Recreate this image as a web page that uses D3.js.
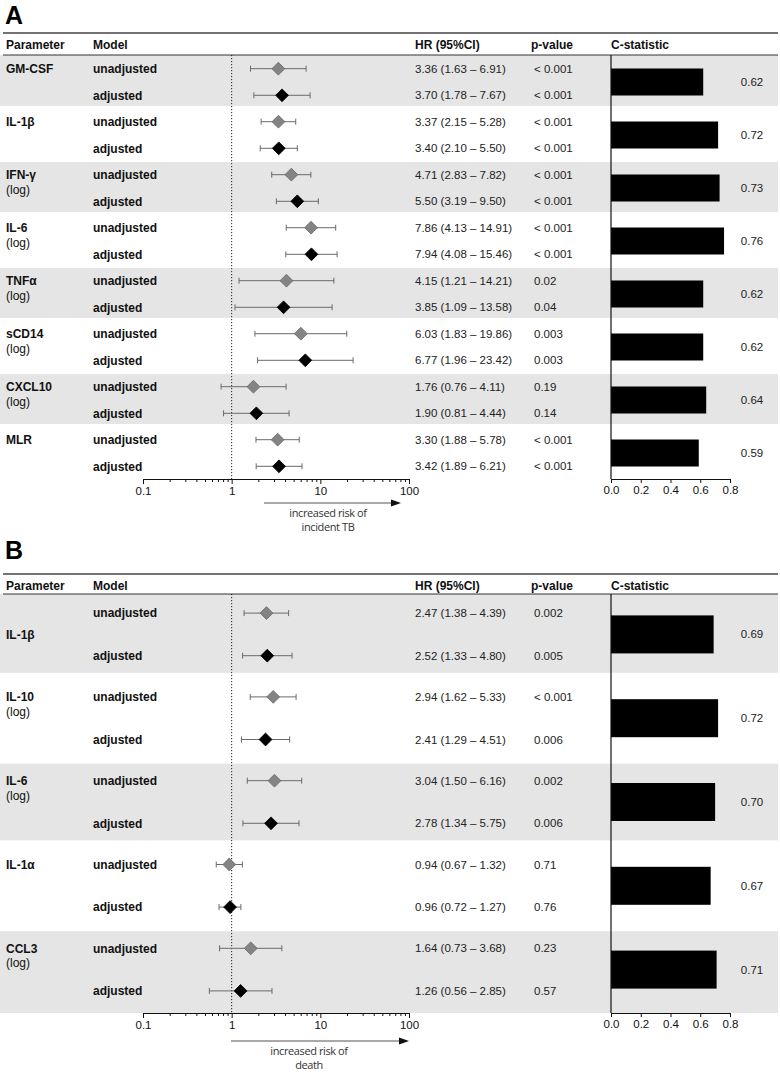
<!DOCTYPE html>
<html><head><meta charset="utf-8">
<script src="https://cdn.jsdelivr.net/npm/d3@7"></script>
<style>
body{margin:0;background:#fff}
svg{display:block}
text{font-family:"Liberation Sans",Arial,Helvetica,sans-serif;fill:#111}
</style>
</head><body>
<svg id="chart" width="780" height="1075"></svg>
<script>
// ---------- Panel A data ----------
const paramsA = ["GM-CSF","IL-1β","IFN-γ","IL-6","TNFα","sCD14","CXCL10","MLR"];
const logA    = [false,false,true,true,true,true,true,false];
const hrUnA   = [3.36,3.37,4.71,7.86,4.15,6.03,1.76,3.30];
const loUnA   = [1.63,2.15,2.83,4.13,1.21,1.83,0.76,1.88];
const hiUnA   = [6.91,5.28,7.82,14.91,14.21,19.86,4.11,5.78];
const pUnA    = ["< 0.001","< 0.001","< 0.001","< 0.001","0.02","0.003","0.19","< 0.001"];
const hrAdA   = [3.70,3.40,5.50,7.94,3.85,6.77,1.90,3.42];
const loAdA   = [1.78,2.10,3.19,4.08,1.09,1.96,0.81,1.89];
const hiAdA   = [7.67,5.50,9.50,15.46,13.58,23.42,4.44,6.21];
const pAdA    = ["< 0.001","< 0.001","< 0.001","< 0.001","0.04","0.003","0.14","< 0.001"];
const cstatA  = [0.62,0.72,0.73,0.76,0.62,0.62,0.64,0.59];

// ---------- Panel B data ----------
const paramsB = ["IL-1β","IL-10","IL-6","IL-1α","CCL3"];
const logB    = [false,true,true,false,true];
const hrUnB   = [2.47,2.94,3.04,0.94,1.64];
const loUnB   = [1.38,1.62,1.50,0.67,0.73];
const hiUnB   = [4.39,5.33,6.16,1.32,3.68];
const pUnB    = ["0.002","< 0.001","0.002","0.71","0.23"];
const hrAdB   = [2.52,2.41,2.78,0.96,1.26];
const loAdB   = [1.33,1.29,1.34,0.72,0.56];
const hiAdB   = [4.80,4.51,5.75,1.27,2.85];
const pAdB    = ["0.005","0.006","0.006","0.76","0.57"];
const cstatB  = [0.69,0.72,0.70,0.67,0.71];

// ---------- axis tick labels ----------
const hrTicks    = [0.1,1,10,100];
const cstatTicks = [0,0.2,0.4,0.6,0.8];
const headers    = ["Parameter","Model","HR (95%CI)","p-value","C-statistic"];
const modelLabels = ["unadjusted","adjusted"];

const svg = d3.select("#chart");
const fmt2 = d3.format(".2f");
const xHR = d3.scaleLog().domain([0.1,100]).range([143,409]);
const xC  = d3.scaleLinear().domain([0,0.8]).range([611,730]);
const minorTicks = [];
[0.1,1,10].forEach(b=>{for(let k=2;k<=9;k++) minorTicks.push(b*k);});

function panel(cfg){
  const g = svg.append("g");
  const n = cfg.params.length;
  const top = cfg.headerRule;
  const axisY = top + n*cfg.gh;
  const yTop = i => top + i*cfg.gh;
  const yC = i => top + (i+0.5)*cfg.gh + cfg.cOff;

  // panel letter
  g.append("text").attr("x",5).attr("y",cfg.titleY).text(cfg.letter)
    .style("font-size","25px").style("font-weight","bold").style("fill","#000");

  // shaded bands
  for(let i=0;i<n;i+=2){
    const y0 = yTop(i) + (i===0?0:cfg.bandIn0);
    const y1 = (i===n-1) ? axisY : yTop(i+1) - cfg.bandIn1;
    g.append("rect").attr("x",0).attr("y",y0).attr("width",778).attr("height",y1-y0)
      .attr("fill","#e5e5e5");
  }

  // rules
  g.append("line").attr("x1",3).attr("x2",778).attr("y1",cfg.topRule).attr("y2",cfg.topRule)
    .attr("stroke","#444").attr("stroke-width",1.6);
  g.append("line").attr("x1",3).attr("x2",778).attr("y1",top).attr("y2",top)
    .attr("stroke","#333").attr("stroke-width",1);

  // headers
  const hx = [6,93,415,531,611];
  headers.forEach((h,k)=>{
    g.append("text").attr("x",hx[k]).attr("y",cfg.topRule+15.5).text(h)
      .style("font-size","12px").style("font-weight","bold");
  });

  // reference line at HR = 1
  g.append("line").attr("x1",xHR(1)).attr("x2",xHR(1)).attr("y1",top).attr("y2",axisY)
    .attr("stroke","#222").attr("stroke-width",1).attr("stroke-dasharray","1.2,1.8");

  for(let i=0;i<n;i++){
    const c = yC(i);
    const rows = [c-cfg.rowD, c+cfg.rowD];
    // parameter label
    const ly = (cfg.centerFirst && i===0) ? c : rows[0];
    g.append("text").attr("x",6).attr("y",ly+4.3).text(cfg.params[i])
      .style("font-size","12px").style("font-weight","bold");
    if(cfg.log[i]){
      g.append("text").attr("x",6).attr("y",ly+19).text("(log)")
        .style("font-size","12px");
    }
    const hr=[cfg.hrUn[i],cfg.hrAd[i]], lo=[cfg.loUn[i],cfg.loAd[i]], hi=[cfg.hiUn[i],cfg.hiAd[i]], p=[cfg.pUn[i],cfg.pAd[i]];
    for(let r=0;r<2;r++){
      const y = rows[r];
      g.append("text").attr("x",93).attr("y",y+4.3).text(modelLabels[r])
        .style("font-size","12px").style("font-weight","bold");
      g.append("text").attr("x",415).attr("y",y+4).text(`${fmt2(hr[r])} (${fmt2(lo[r])} – ${fmt2(hi[r])})`)
        .style("font-size","11.5px").style("fill","#222");
      g.append("text").attr("x",534).attr("y",y+4).text(p[r])
        .style("font-size","11.5px").style("fill","#222");
      // CI whisker
      g.append("line").attr("x1",xHR(lo[r])).attr("x2",xHR(hi[r])).attr("y1",y).attr("y2",y)
        .attr("stroke","#6a6a6a").attr("stroke-width",1);
      [lo[r],hi[r]].forEach(v=>{
        g.append("line").attr("x1",xHR(v)).attr("x2",xHR(v)).attr("y1",y-3).attr("y2",y+3)
          .attr("stroke","#6a6a6a").attr("stroke-width",1);
      });
      g.append("path").attr("d",d3.symbol(d3.symbolSquare,82)())
        .attr("transform",`translate(${xHR(hr[r])},${y}) rotate(45)`)
        .attr("fill", r===0 ? "#848484" : "#000")
        .attr("stroke", r===0 ? "#6a6a6a" : "#000").attr("stroke-width",0.8);
    }
    // C-statistic bar
    g.append("rect").attr("x",xC(0)).attr("y",c-cfg.barH/2).attr("width",xC(cfg.cstat[i])-xC(0))
      .attr("height",cfg.barH).attr("fill","#000");
    g.append("text").attr("x",752).attr("y",c+4).attr("text-anchor","middle").text(fmt2(cfg.cstat[i]))
      .style("font-size","11.5px").style("fill","#222");
  }

  // HR axis (major + minor)
  const axMajor = d3.axisBottom(xHR).tickValues(hrTicks).tickFormat(d=>String(d)).tickSize(5).tickSizeOuter(0).tickPadding(3);
  const ga = g.append("g").attr("transform",`translate(0,${axisY})`).call(axMajor);
  ga.select(".domain").attr("stroke","#111").attr("stroke-width",1.2);
  ga.selectAll(".tick line").attr("stroke","#111");
  ga.selectAll("text").style("font-size","11.5px").style("font-family",'"Liberation Sans",Arial,sans-serif').attr("fill","#222");
  const axMinor = d3.axisBottom(xHR).tickValues(minorTicks).tickFormat("").tickSize(3).tickSizeOuter(0);
  const gm = g.append("g").attr("transform",`translate(0,${axisY})`).call(axMinor);
  gm.select(".domain").remove();
  gm.selectAll(".tick line").attr("stroke","#111");

  // C-statistic axis
  g.append("line").attr("x1",xC(0)).attr("x2",xC(0)).attr("y1",top).attr("y2",axisY)
    .attr("stroke","#111").attr("stroke-width",1.2);
  const axC = d3.axisBottom(xC).tickValues(cstatTicks).tickFormat(d3.format(".1f")).tickSize(4).tickSizeOuter(0).tickPadding(3);
  const gc = g.append("g").attr("transform",`translate(0,${axisY})`).call(axC);
  gc.select(".domain").attr("stroke","#111").attr("stroke-width",1.2);
  gc.selectAll(".tick line").attr("stroke","#111");
  gc.selectAll("text").style("font-size","11.5px").style("font-family",'"Liberation Sans",Arial,sans-serif').attr("fill","#222");

  // arrow + caption
  const ay = axisY + cfg.arrowDy;
  g.append("line").attr("x1",cfg.arrowX1).attr("x2",cfg.arrowX2-8).attr("y1",ay).attr("y2",ay)
    .attr("stroke","#555").attr("stroke-width",1.2);
  g.append("path").attr("d",`M${cfg.arrowX2},${ay} L${cfg.arrowX2-10},${ay-3.5} L${cfg.arrowX2-10},${ay+3.5} Z`)
    .attr("fill","#111");
  cfg.caption.forEach((t,k)=>{
    g.append("text").attr("x",cfg.capX).attr("y",ay+14+k*14).attr("text-anchor","middle").text(t)
      .style("font-family",'"Open Sans",sans-serif').style("font-size","11px").style("letter-spacing","-0.4px").style("fill","#333");
  });
}

panel({letter:"A", titleY:24, topRule:33, headerRule:55, gh:53, cOff:0.5, rowD:13.3,
  bandIn0:1, bandIn1:2, barH:27, centerFirst:false,
  params:paramsA, log:logA, hrUn:hrUnA, loUn:loUnA, hiUn:hiUnA, pUn:pUnA,
  hrAd:hrAdA, loAd:loAdA, hiAd:hiAdA, pAd:pAdA, cstat:cstatA,
  arrowDy:24, arrowX1:264, arrowX2:401, capX:328, caption:["increased risk of","incident TB"]});

panel({letter:"B", titleY:559, topRule:574, headerRule:594, gh:83.8, cOff:-1.5, rowD:21.3,
  bandIn0:2, bandIn1:5, barH:38, centerFirst:true,
  params:paramsB, log:logB, hrUn:hrUnB, loUn:loUnB, hiUn:hiUnB, pUn:pUnB,
  hrAd:hrAdB, loAd:loAdB, hiAd:hiAdB, pAd:pAdB, cstat:cstatB,
  arrowDy:28, arrowX1:231, arrowX2:409, capX:309, caption:["increased risk of","death"]});
</script>
</body></html>
